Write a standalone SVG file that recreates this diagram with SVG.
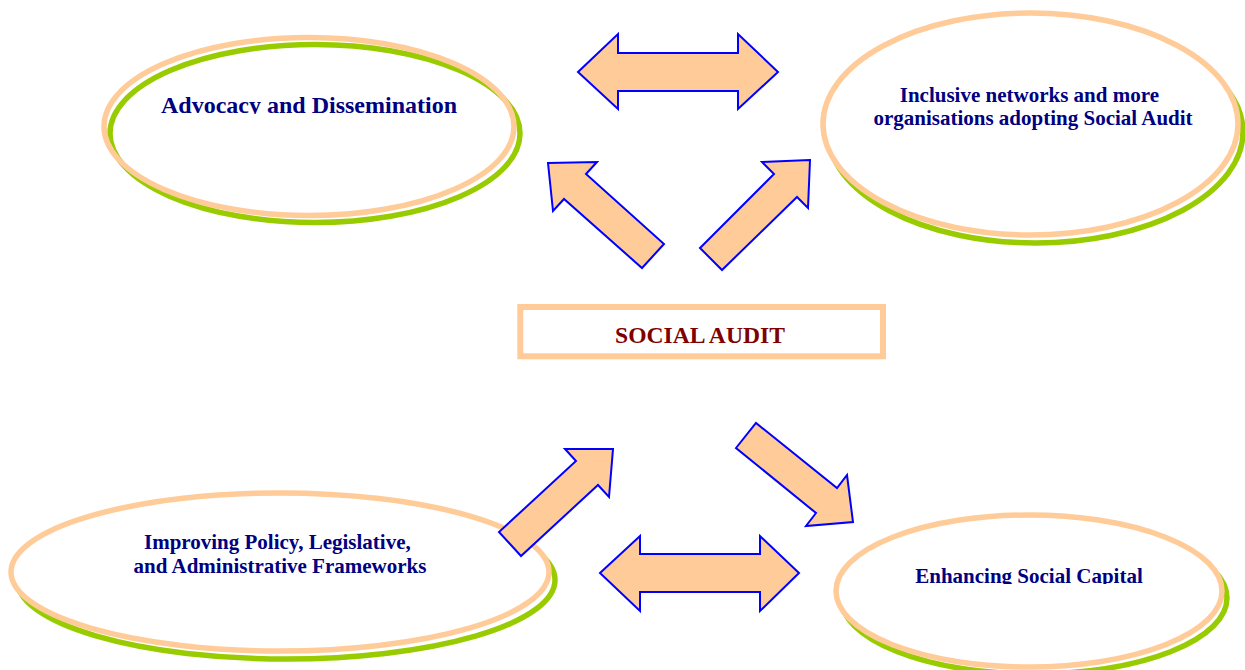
<svg xmlns="http://www.w3.org/2000/svg" width="1245" height="670" viewBox="0 0 1245 670">
  <style>
    .shadow { fill: none; stroke: #99CC00; stroke-width: 5.5; }
    .ring { stroke: #FFCC99; stroke-width: 5.5; }
    .label { font-family: "Liberation Serif", "Times New Roman", serif; font-weight: bold; fill: #000080; text-anchor: middle; }
    .arrow { fill: #FFCC99; stroke: #0000FF; stroke-width: 2; stroke-linejoin: miter; }
  </style>
  <defs>
    <clipPath id="clipAdv"><rect x="100" y="40" width="420" height="74"/></clipPath>
    <clipPath id="clipEnh"><rect x="840" y="520" width="380" height="64"/></clipPath>
  </defs>
  <rect width="1245" height="670" fill="#FFFFFF"/>

  <g id="node-advocacy">
    <ellipse class="shadow" cx="315" cy="133.5" rx="205" ry="89"/>
    <ellipse class="ring" fill="none" cx="309" cy="126.5" rx="205" ry="89"/>
    <text class="label" x="309" y="113" font-size="24" clip-path="url(#clipAdv)">Advocacy and Dissemination</text>
  </g>

  <g id="node-inclusive">
    <ellipse class="shadow" cx="1035.5" cy="132" rx="207.5" ry="111"/>
    <ellipse class="ring" fill="#FFFFFF" cx="1030.5" cy="124" rx="207.5" ry="111"/>
    <text class="label" font-size="21">
      <tspan x="1032" y="101.7">Inclusive networks and more</tspan>
      <tspan x="1033" y="125">organisations adopting Social Audit</tspan>
    </text>
  </g>

  <g id="node-social-audit">
    <rect x="520.3" y="307" width="362.7" height="49.3" fill="#FFFFFF" stroke="#FFCC99" stroke-width="6"/>
    <text x="700" y="342.7" font-family="Liberation Serif, Times New Roman, serif" font-weight="bold" font-size="23.6" fill="#800000" text-anchor="middle">SOCIAL AUDIT</text>
  </g>

  <g id="node-policy">
    <ellipse class="shadow" cx="286" cy="580" rx="269" ry="79"/>
    <ellipse class="ring" fill="#FFFFFF" cx="280" cy="572" rx="269" ry="79"/>
    <text class="label" font-size="21">
      <tspan x="280" y="548.5">Improving Policy, Legislative,</tspan>
      <tspan x="280" y="572.7">and Administrative Frameworks</tspan>
    </text>
  </g>

  <g id="node-capital">
    <ellipse class="shadow" cx="1034" cy="598" rx="193" ry="76"/>
    <ellipse class="ring" fill="#FFFFFF" cx="1029" cy="591" rx="193" ry="76"/>
    <text class="label" x="1029" y="583" font-size="21" clip-path="url(#clipEnh)">Enhancing Social Capital</text>
  </g>

  <g id="connectors">
    <polygon class="arrow" points="578,72 618,34 618,53 738,53 738,34 778,72 738,109 738,91 618,91 618,109"/>
    <polygon class="arrow" points="548,163 597,162 586,174 664,244 642,268 564,199 553,211"/>
    <polygon class="arrow" points="810,160 762,162 774,174 700,248 722,270 797,197 808,208"/>
    <polygon class="arrow" points="613,449 565,449 576,461 499,532 521,556 598,485 609,497"/>
    <polygon class="arrow" points="736,448 756,423 837,488 847,475 853,522 806,526 816,513"/>
    <polygon class="arrow" points="600,573 640,536 640,554 760,554 760,536 799,573 760,611 760,592 640,592 640,611"/>
  </g>
</svg>
